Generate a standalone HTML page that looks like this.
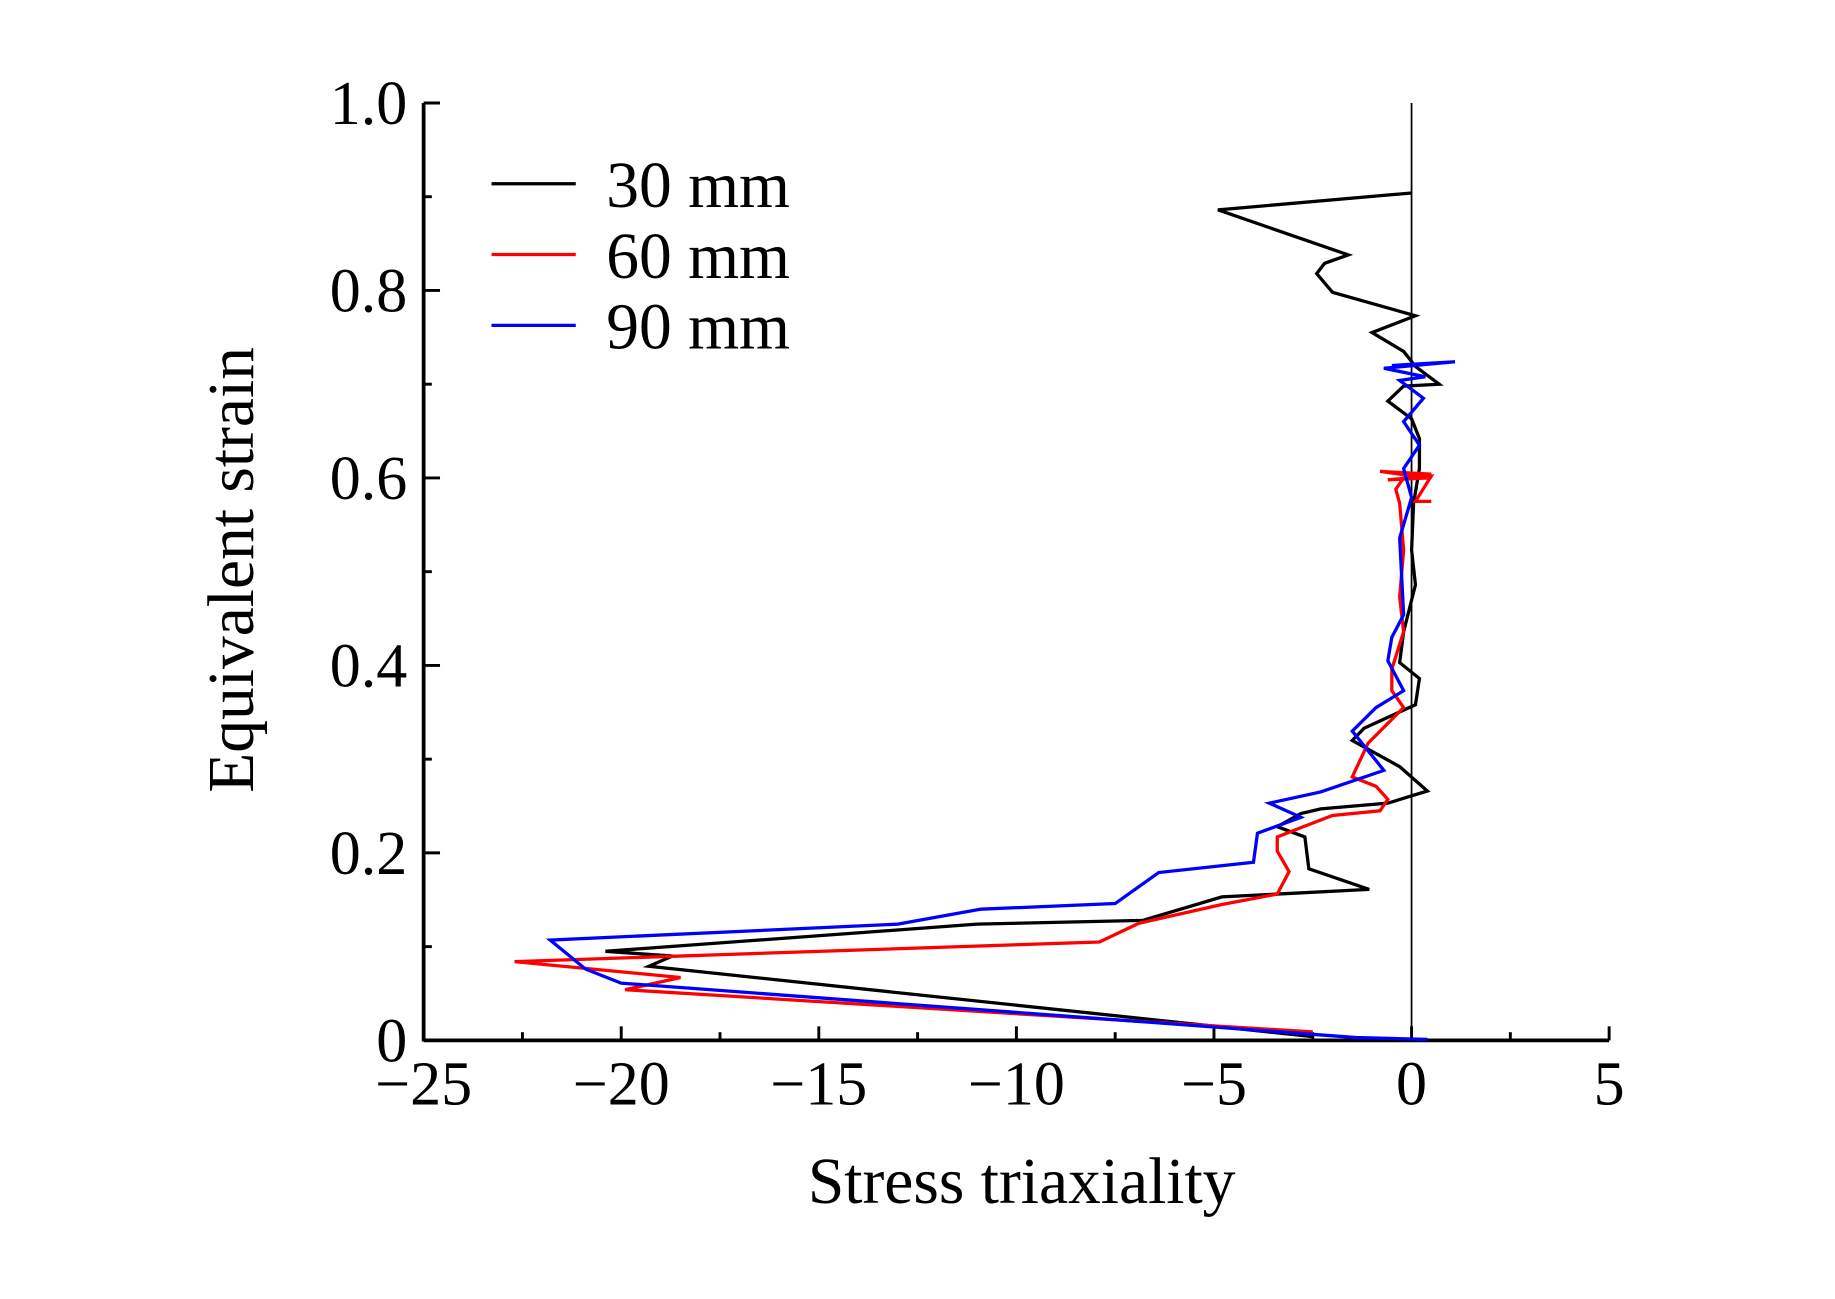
<!DOCTYPE html>
<html><head><meta charset="utf-8"><style>
html,body{margin:0;padding:0;background:#fff;}
svg{display:block;}
text{font-family:"Liberation Serif",serif;fill:#000;}
</style></head><body>
<svg id="chart" width="1835" height="1299" viewBox="0 0 1568 1110" preserveAspectRatio="none" xmlns="http://www.w3.org/2000/svg">
<g id="axes"></g>
<g id="series"></g>
<g id="legend"></g>
</svg>
<script>
const xTicks=[-25,-20,-15,-10,-5,0,5];
const xTickLabels=["\u221225","\u221220","\u221215","\u221210","\u22125","0","5"];
const yTicks=[0,0.2,0.4,0.6,0.8,1.0];
const yTickLabels=["0","0.2","0.4","0.6","0.8","1.0"];
const seriesNames=["30 mm","60 mm","90 mm"];
const seriesColors=["#000","#f00","#00f"];
const s30x=[-2.5,-19.3,-18.7,-20.4,-11,-6.8,-4.8,-1.07,-2.6,-2.7,-3.4,-2.8,-2.3,-0.6,0.4,-0.3,-1.5,-1.2,0.1,0.2,-0.3,-0.2,0.1,0,0.05,0.2,0.2,0,-0.6,-0.2,0.7,0.1,-0.2,-1,0.1,-2,-2.4,-2.2,-1.6,-4.9,0];
const s30y=[0.004,0.079,0.09,0.095,0.124,0.128,0.153,0.161,0.183,0.217,0.228,0.242,0.247,0.253,0.266,0.292,0.32,0.333,0.358,0.386,0.403,0.436,0.486,0.523,0.573,0.61,0.642,0.663,0.682,0.698,0.70,0.719,0.735,0.755,0.773,0.798,0.818,0.829,0.838,0.886,0.904];
const s60x=[-2.5,-19.9,-18.5,-22.7,-7.9,-6.9,-4.8,-3.4,-3.1,-3.4,-3.4,-2.8,-2,-0.8,-0.6,-0.9,-1.5,-1.1,-0.2,-0.5,-0.5,-0.2,-0.3,-0.2,-0.3,-0.4,-0.2,0.5,-0.8,0.4,-0.6,0.5,0.1,0.5];
const s60y=[0.009,0.054,0.067,0.084,0.105,0.125,0.145,0.156,0.18,0.202,0.217,0.227,0.24,0.245,0.257,0.271,0.281,0.317,0.355,0.373,0.396,0.436,0.473,0.523,0.573,0.588,0.6,0.604,0.607,0.6,0.598,0.602,0.575,0.575];
const s90x=[0.4,-1.4,-20,-20.9,-21.8,-13,-10.9,-7.5,-6.4,-4,-3.9,-2.8,-3.6,-2.3,-0.7,-1.5,-0.9,-0.2,-0.6,-0.5,-0.2,-0.3,0,-0.2,0.2,-0.2,0.3,-0.3,0.35,-0.7,1.1,-0.5];
const s90y=[0.001,0.003,0.061,0.076,0.107,0.124,0.14,0.146,0.179,0.19,0.221,0.238,0.253,0.265,0.288,0.33,0.355,0.373,0.405,0.43,0.454,0.536,0.579,0.61,0.635,0.66,0.685,0.704,0.708,0.717,0.724,0.72];
const NS="http://www.w3.org/2000/svg";
const X0=362,X1=1375,Y0=889,Y1=88;
function sx(v){return X0+(v+25)/30*(X1-X0);}
function sy(v){return Y0-v*(Y0-Y1);}
function mk(tag,attrs,parent){const e=document.createElementNS(NS,tag);for(const k in attrs)e.setAttribute(k,attrs[k]);parent.appendChild(e);return e;}
const axes=document.getElementById('axes');
let e;
e=mk('line',{x1:X0,y1:Y0,x2:X1,y2:Y0,stroke:'#000','stroke-width':3.2},axes);


e=mk('line',{x1:X0,y1:Y0+1,x2:X0,y2:Y1,stroke:'#000','stroke-width':3.2},axes);


e=mk('line',{x1:sx(0),y1:Y0,x2:sx(0),y2:Y1,stroke:'#000','stroke-width':1.5},axes);


for(let v=-25;v<=5;v+=2.5){
 const major=(v%5===0);
 e=mk('line',{x1:sx(v),y1:Y0,x2:sx(v),y2:Y0-(major?12:7),stroke:'#000','stroke-width':2.5},axes);
 
 
}
for(let i=0;i<=10;i++){
 const v=i/10;
 e=mk('line',{x1:X0,y1:sy(v),x2:X0+(i%2===0?14:7),y2:sy(v),stroke:'#000','stroke-width':2.5},axes);
 
 
}
xTicks.forEach((v,i)=>{
 e=mk('text',{x:sx(v),y:944,'text-anchor':'middle','font-size':53},axes);
 e.textContent=xTickLabels[i];
 
 
});
yTicks.forEach((v,i)=>{
 e=mk('text',{x:348,y:sy(v)+18,'text-anchor':'end','font-size':53},axes);
 e.textContent=yTickLabels[i];
 
 
});
e=mk('text',{x:873,y:1028,'text-anchor':'middle','font-size':56},axes);
e.textContent='Stress triaxiality';


e=mk('text',{x:0,y:0,'text-anchor':'middle','font-size':56,transform:'translate(216,487) rotate(-90)'},axes);
e.textContent='Equivalent strain';


const sg=document.getElementById('series');
const data=[[s30x,s30y],[s60x,s60y],[s90x,s90y]];
const snames=['series-30mm','series-60mm','series-90mm'];
data.forEach((d,k)=>{
 const pts=d[0].map((x,i)=>sx(x).toFixed(1)+','+sy(d[1][i]).toFixed(1)).join(' ');
 e=mk('polyline',{points:pts,fill:'none',stroke:seriesColors[k],'stroke-width':2.8,'stroke-linejoin':'miter'},sg);
 
 
});
const lg=document.getElementById('legend');
seriesNames.forEach((n,k)=>{
 const y=157+k*60.5;
 e=mk('line',{x1:420,y1:y,x2:492,y2:y,stroke:seriesColors[k],'stroke-width':2.8},lg);
 
 
 e=mk('text',{x:518,y:y+20,'font-size':56},lg);
 e.textContent=n;
 
 
});
</script>
</body></html>
